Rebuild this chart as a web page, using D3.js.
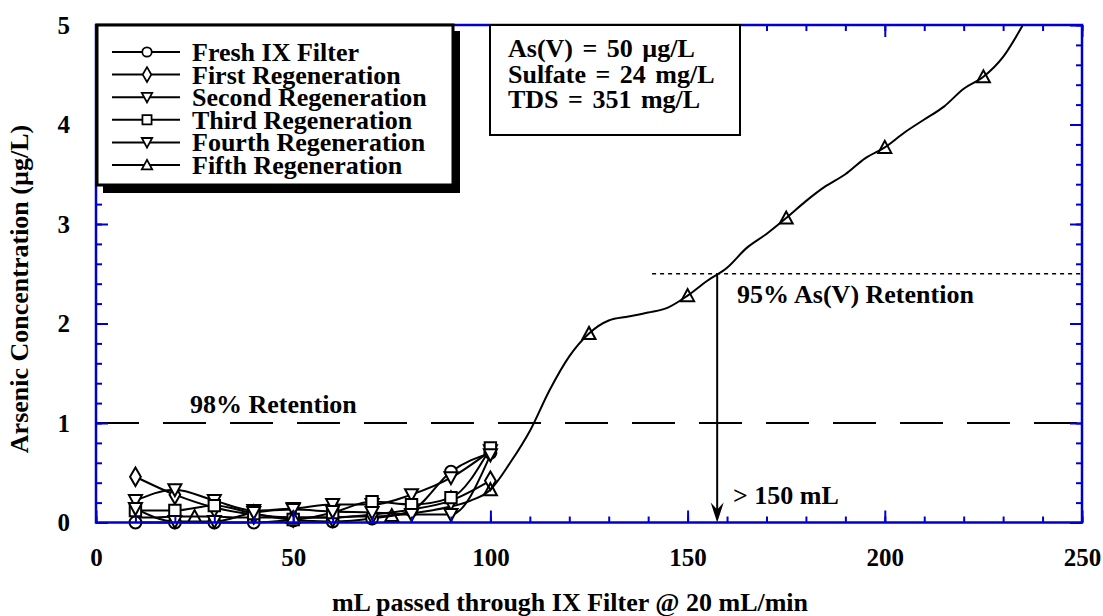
<!DOCTYPE html>
<meta charset="utf-8">
<style>
body { margin: 0; background: #fff; }
svg text { font-family: "Liberation Serif", "Times New Roman", serif; font-weight: bold; fill: #000; }
</style>
<svg id="chart" width="1103" height="616"></svg>
<script src="https://cdn.jsdelivr.net/npm/d3@7"></script>
<script>
// volumes sampled for the first five runs (mL)
var runX = [10, 20, 30, 40, 50, 60, 70, 80, 90, 100];
var fresh  = [0.00, 0.00, 0.00, 0.00, 0.02, 0.01, 0.04, 0.12, 0.51, 0.70];
var first  = [0.46, 0.28, 0.15, 0.08, 0.05, 0.05, 0.08, 0.13, 0.22, 0.42];
var second = [0.22, 0.33, 0.22, 0.12, 0.14, 0.18, 0.18, 0.28, 0.45, 0.72];
var third  = [0.12, 0.12, 0.17, 0.09, 0.03, 0.10, 0.21, 0.18, 0.25, 0.75];
var fourth = [0.14, 0.01, 0.01, 0.10, 0.13, 0.11, 0.10, 0.08, 0.08, 0.68];

// fifth regeneration was followed much further
var fifthX = [10, 15, 20, 25, 30, 35, 40, 45, 50, 55, 60, 65, 70, 75, 80, 85, 90, 95, 100,
              105, 110, 115, 120, 125, 130, 135, 140, 145, 150, 155, 160, 165, 170, 175,
              180, 185, 190, 195, 200, 205, 210, 215, 220, 225, 230, 235];
var fifthY = [0.05, 0.05, 0.06, 0.06, 0.06, 0.05, 0.05, 0.05, 0.05, 0.05, 0.05, 0.06, 0.06, 0.07,
              0.09, 0.12, 0.16, 0.22, 0.33, 0.60, 0.92, 1.33, 1.67, 1.90, 2.03, 2.07, 2.11,
              2.16, 2.28, 2.43, 2.56, 2.76, 2.90, 3.06, 3.23, 3.38, 3.50, 3.66, 3.77, 3.92,
              4.05, 4.18, 4.36, 4.48, 4.68, 5.00];
var fifthMarks = [25, 50, 75, 100, 125, 150, 175, 200, 225];

var legendNames = ["Fresh IX Filter", "First Regeneration", "Second Regeneration",
                   "Third Regeneration", "Fourth Regeneration", "Fifth Regeneration"];
var xTicks = [0, 50, 100, 150, 200, 250];
var yTicks = [0, 1, 2, 3, 4, 5];
var conditions = ["As(V) = 50 \u00b5g/L", "Sulfate = 24 mg/L", "TDS = 351 mg/L"];

var svg = d3.select("#chart");
var blue = "#0000cc";

var x = d3.scaleLinear().domain([0, 250]).range([96, 1082]);
var y = d3.scaleLinear().domain([0, 5]).range([522.5, 25]);

// symbols
var symbols = {
  circle: d3.symbol().type(d3.symbolCircle).size(110),
  diamond: d3.symbol().type(d3.symbolDiamond).size(100),
  down: function() { return "M-6.5,-5.5L6.5,-5.5L0,6.5Z"; },
  square: d3.symbol().type(d3.symbolSquare).size(130),
  up: function() { return "M-6.5,5.5L6.5,5.5L0,-6.5Z"; }
};

var series = [
  {name: legendNames[0], vals: fresh, sym: "circle"},
  {name: legendNames[1], vals: first, sym: "diamond"},
  {name: legendNames[2], vals: second, sym: "down"},
  {name: legendNames[3], vals: third, sym: "square"},
  {name: legendNames[4], vals: fourth, sym: "down"}
];

var line = d3.line()
    .x(function(d) { return x(d[0]); })
    .y(function(d) { return y(d[1]); })
    .curve(d3.curveMonotoneX);

var plot = svg.append("g");

// reference lines
plot.append("line")
    .attr("x1", x(0)).attr("x2", x(250))
    .attr("y1", y(1)).attr("y2", y(1))
    .attr("stroke", "#000").attr("stroke-width", 2)
    .attr("stroke-dasharray", "43,24");
plot.append("line")
    .attr("x1", x(141)).attr("x2", x(250))
    .attr("y1", y(2.5)).attr("y2", y(2.5))
    .attr("stroke", "#000").attr("stroke-width", 1.5)
    .attr("stroke-dasharray", "4,4");
plot.append("line")
    .attr("x1", x(157.5)).attr("x2", x(157.5))
    .attr("y1", y(2.5)).attr("y2", y(0) - 8)
    .attr("stroke", "#000").attr("stroke-width", 2);
plot.append("path")
    .attr("d", "M" + x(157.5) + "," + y(0) + "l-6.5,-20l6.5,7l6.5,-7z")
    .attr("fill", "#000");

// early runs
series.forEach(function(s) {
  var pts = runX.map(function(v, i) { return [v, s.vals[i]]; });
  plot.append("path")
      .attr("d", line(pts))
      .attr("fill", "none").attr("stroke", "#000").attr("stroke-width", 2);
});

// fifth regeneration
var fifthPts = fifthX.map(function(v, i) { return [v, fifthY[i]]; });
plot.append("path")
    .attr("d", line(fifthPts))
    .attr("fill", "none").attr("stroke", "#000").attr("stroke-width", 2);

series.forEach(function(s) {
  plot.selectAll(null)
      .data(runX.map(function(v, i) { return [v, s.vals[i]]; }))
      .enter().append("path")
      .attr("transform", function(d) { return "translate(" + x(d[0]) + "," + y(d[1]) + ")"; })
      .attr("d", symbols[s.sym])
      .attr("fill", "#fff").attr("stroke", "#000").attr("stroke-width", 2);
});
plot.selectAll(null)
    .data(fifthPts.filter(function(d) { return fifthMarks.indexOf(d[0]) >= 0; }))
    .enter().append("path")
    .attr("transform", function(d) { return "translate(" + x(d[0]) + "," + y(d[1]) + ")"; })
    .attr("d", symbols.up)
    .attr("fill", "none").attr("stroke", "#000").attr("stroke-width", 2);

// annotations
plot.append("text").attr("x", 190).attr("y", 413).style("font-size", "26px").text("98% Retention");
plot.append("text").attr("x", 737).attr("y", 303).style("font-size", "26px").text("95% As(V) Retention");
plot.append("text").attr("x", 733).attr("y", 504).style("font-size", "26px").text("> 150 mL");

// axes frame
function styleAxis(g) {
  g.select(".domain").remove();
  g.selectAll("line").attr("stroke", blue).attr("stroke-width", 2);
  g.selectAll("text").style("font-size", "25px");
}
var xMinor = d3.range(0, 251, 10), yMinor = d3.range(0, 5.01, 0.2);
svg.append("g").attr("transform", "translate(0," + y(0) + ")")
    .call(d3.axisBottom(x).tickValues(xMinor).tickSize(-6).tickFormat("")).call(styleAxis);
svg.append("g").attr("transform", "translate(0," + y(0) + ")")
    .call(d3.axisBottom(x).tickValues(xTicks).tickSize(-12).tickPadding(26).tickFormat(d3.format("d"))).call(styleAxis);
svg.append("g").attr("transform", "translate(0," + y(5) + ")")
    .call(d3.axisTop(x).tickValues(xMinor).tickSize(-6).tickFormat("")).call(styleAxis);
svg.append("g").attr("transform", "translate(0," + y(5) + ")")
    .call(d3.axisTop(x).tickValues(xTicks).tickSize(-12).tickFormat("")).call(styleAxis);
svg.append("g").attr("transform", "translate(" + x(0) + ",0)")
    .call(d3.axisLeft(y).tickValues(yMinor).tickSize(-6).tickFormat("")).call(styleAxis);
svg.append("g").attr("transform", "translate(" + x(0) + ",0)")
    .call(d3.axisLeft(y).tickValues(yTicks).tickSize(-12).tickPadding(26).tickFormat(d3.format("d"))).call(styleAxis);
svg.append("g").attr("transform", "translate(" + x(250) + ",0)")
    .call(d3.axisRight(y).tickValues(yMinor).tickSize(-6).tickFormat("")).call(styleAxis);
svg.append("g").attr("transform", "translate(" + x(250) + ",0)")
    .call(d3.axisRight(y).tickValues(yTicks).tickSize(-12).tickFormat("")).call(styleAxis);
svg.append("rect")
    .attr("x", x(0)).attr("y", y(5))
    .attr("width", x(250) - x(0)).attr("height", y(0) - y(5))
    .attr("fill", "none").attr("stroke", blue).attr("stroke-width", 2.5);

// axis titles
svg.append("text").attr("x", 570).attr("y", 611).attr("text-anchor", "middle")
    .style("font-size", "26px").text("mL passed through IX Filter @ 20 mL/min");
svg.append("text").attr("transform", "translate(28,289) rotate(-90)").attr("text-anchor", "middle")
    .style("font-size", "26px").text("Arsenic Concentration (\u00b5g/L)");

// legend
var leg = svg.append("g");
leg.append("rect").attr("x", 103).attr("y", 31).attr("width", 357).attr("height", 162).attr("fill", "#000");
leg.append("rect").attr("x", 97).attr("y", 25).attr("width", 356).attr("height", 160)
    .attr("fill", "#fff").attr("stroke", "#000").attr("stroke-width", 3);
var legSyms = ["circle", "diamond", "down", "square", "down", "up"];
legendNames.forEach(function(name, i) {
  var ly = 52 + i * 22.6;
  leg.append("line").attr("x1", 112).attr("x2", 180).attr("y1", ly).attr("y2", ly)
      .attr("stroke", "#000").attr("stroke-width", 2);
  leg.append("path").attr("transform", "translate(147," + ly + ") scale(0.8)")
      .attr("d", symbols[legSyms[i]])
      .attr("fill", "#fff").attr("stroke", "#000").attr("stroke-width", 2.2);
  leg.append("text").attr("x", 192).attr("y", ly + 9).style("font-size", "26px").text(name);
});

// conditions box
var box = svg.append("g");
box.append("rect").attr("x", 490).attr("y", 25).attr("width", 250).attr("height", 110)
    .attr("fill", "#fff").attr("stroke", "#000").attr("stroke-width", 2);
conditions.forEach(function(t, i) {
  box.append("text").attr("x", 508).attr("y", 57 + i * 25.5)
      .style("font-size", "26px").style("word-spacing", "3px").text(t);
});
</script>
